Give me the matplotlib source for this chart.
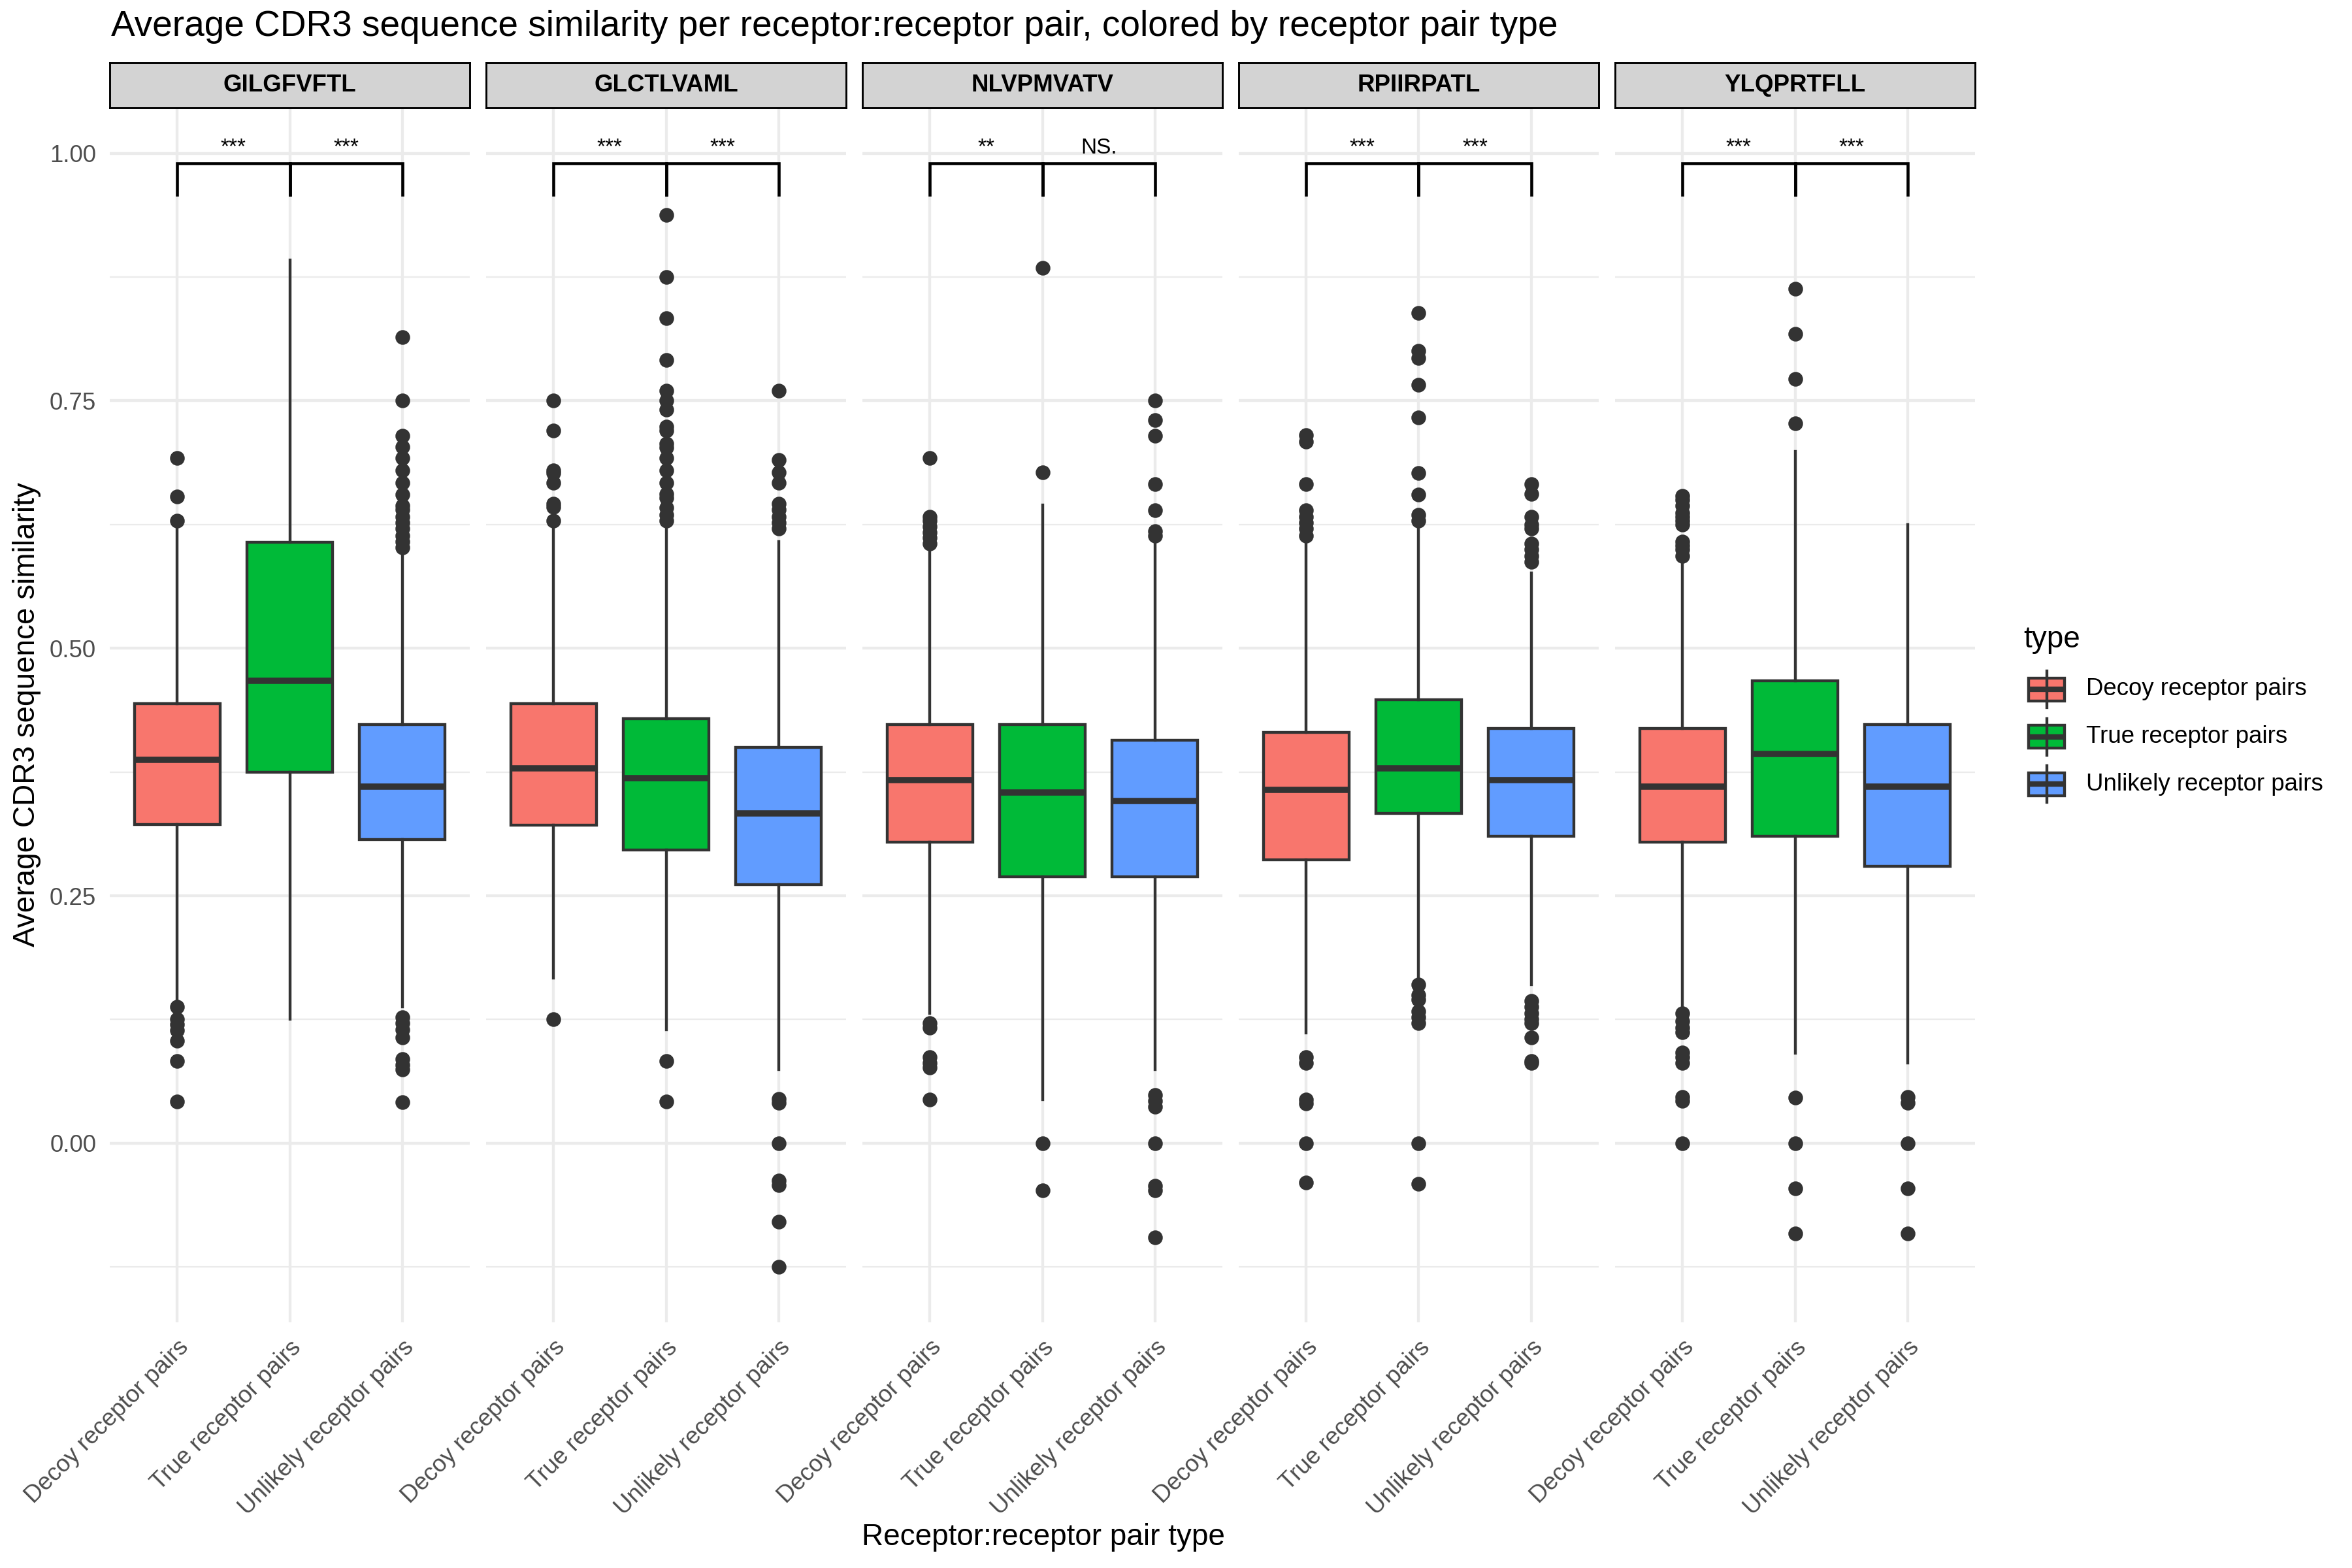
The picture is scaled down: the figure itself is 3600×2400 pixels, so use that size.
import matplotlib
matplotlib.use("Agg")
import matplotlib.pyplot as plt
from matplotlib.patches import Rectangle

plt.rcParams['font.family'] = ['Liberation Sans', 'DejaVu Sans']

peptides = ["GILGFVFTL", "GLCTLVAML", "NLVPMVATV", "RPIIRPATL", "YLQPRTFLL"]
pair_types = ["Decoy receptor pairs", "True receptor pairs", "Unlikely receptor pairs"]
colors = ["#F8766D", "#00BA38", "#619CFF"]

# box statistics, one row per peptide, columns follow pair_types
q1 = [
    [0.322, 0.375, 0.307],
    [0.3215, 0.296, 0.261],
    [0.304, 0.269, 0.269],
    [0.286, 0.333, 0.310],
    [0.304, 0.310, 0.2795],
]
medians = [
    [0.387, 0.467, 0.360],
    [0.379, 0.369, 0.333],
    [0.367, 0.354, 0.346],
    [0.357, 0.379, 0.367],
    [0.360, 0.393, 0.360],
]
q3 = [
    [0.444, 0.607, 0.423],
    [0.444, 0.429, 0.400],
    [0.423, 0.423, 0.407],
    [0.415, 0.448, 0.419],
    [0.419, 0.467, 0.423],
]
whisk_lo = [
    [0.144, 0.125, 0.138],
    [0.167, 0.115, 0.0745],
    [0.131, 0.044, 0.0745],
    [0.1115, 0.166, 0.160],
    [0.138, 0.091, 0.081],
]
whisk_hi = [
    [0.621, 0.8925, 0.600],
    [0.625, 0.625, 0.608],
    [0.600, 0.645, 0.606],
    [0.606, 0.621, 0.576],
    [0.587, 0.699, 0.625],
]
outliers = [
    [
        [0.692, 0.653, 0.629, 0.138, 0.125, 0.120, 0.114, 0.1035, 0.083, 0.042],
        [],
        [0.8145, 0.75, 0.7146, 0.7036, 0.692, 0.680, 0.667, 0.655, 0.644, 0.640, 0.633,
         0.627, 0.621, 0.614, 0.608, 0.602, 0.127, 0.121, 0.1145, 0.107, 0.085, 0.079,
         0.0745, 0.0417],
    ],
    [
        [0.75, 0.7197, 0.680, 0.677, 0.667, 0.646, 0.643, 0.629, 0.125],
        [0.9376, 0.875, 0.8335, 0.791, 0.760, 0.75, 0.741, 0.724, 0.72, 0.707, 0.703,
         0.692, 0.680, 0.667, 0.656, 0.652, 0.642, 0.635, 0.629, 0.083, 0.042],
        [0.760, 0.690, 0.678, 0.667, 0.646, 0.640, 0.633, 0.627, 0.621, 0.045, 0.041,
         0.0, -0.038, -0.0425, -0.0795, -0.1246],
    ],
    [
        [0.692, 0.633, 0.629, 0.623, 0.617, 0.612, 0.606, 0.121, 0.1166, 0.087, 0.081,
         0.0766, 0.0438],
        [0.8845, 0.678, 0.0, -0.0476],
        [0.75, 0.7306, 0.7146, 0.666, 0.6396, 0.6185, 0.614, 0.049, 0.043, 0.0366, 0.0,
         -0.043, -0.0476, -0.095],
    ],
    [
        [0.7154, 0.709, 0.666, 0.6396, 0.633, 0.627, 0.621, 0.614, 0.087, 0.081, 0.0438,
         0.040, 0.0, -0.040],
        [0.8385, 0.8006, 0.7934, 0.7664, 0.733, 0.677, 0.655, 0.635, 0.629, 0.16, 0.150,
         0.145, 0.133, 0.127, 0.121, 0.0, -0.0412],
        [0.666, 0.656, 0.633, 0.625, 0.621, 0.606, 0.600, 0.593, 0.587, 0.144, 0.1376,
         0.131, 0.125, 0.121, 0.107, 0.083, 0.081],
    ],
    [
        [0.654, 0.650, 0.644, 0.637, 0.633, 0.629, 0.625, 0.608, 0.604, 0.600, 0.593,
         0.131, 0.123, 0.1166, 0.112, 0.0913, 0.087, 0.081, 0.047, 0.043, 0.0],
        [0.8634, 0.8179, 0.7724, 0.7273, 0.0459, 0.0, -0.0455, -0.091],
        [0.047, 0.041, 0.0, -0.0455, -0.091],
    ],
]
signif = [["***", "***"], ["***", "***"], ["**", "NS."], ["***", "***"], ["***", "***"]]

W, H = 3600, 2400
fig = plt.figure(figsize=(12, 8), dpi=300)

dark = "#333333"
grid_c = "#EBEBEB"
panel_left, panel_w, panel_gap = 168, 551, 25
panel_top, panel_bot = 165, 2024
strip_h = 69

for i, pep in enumerate(peptides):
    x0 = panel_left + i * (panel_w + panel_gap)
    ax = fig.add_axes([x0 / W, 1 - panel_bot / H, panel_w / W, (panel_bot - panel_top) / H])

    stats = []
    for j in range(3):
        stats.append({
            "med": medians[i][j], "q1": q1[i][j], "q3": q3[i][j],
            "whislo": whisk_lo[i][j], "whishi": whisk_hi[i][j],
            "fliers": outliers[i][j],
        })
    bp = ax.bxp(stats, positions=[1, 2, 3], widths=0.76, showcaps=False,
                patch_artist=True, manage_ticks=False,
                boxprops=dict(edgecolor=dark, linewidth=1.05),
                whiskerprops=dict(color=dark, linewidth=1.05),
                medianprops=dict(color=dark, linewidth=2.3, solid_capstyle="butt"),
                flierprops=dict(marker="o", markerfacecolor=dark, markeredgecolor=dark,
                                markersize=4.4, linestyle="none"))
    for patch, c in zip(bp["boxes"], colors):
        patch.set_facecolor(c)

    ax.set_xlim(0.4, 3.6)
    ax.set_ylim(-0.181, 1.046)
    ax.set_yticks([0, 0.25, 0.5, 0.75, 1.0])
    ax.set_yticks([-0.125, 0.125, 0.375, 0.625, 0.875], minor=True)
    ax.set_xticks([1, 2, 3])
    ax.grid(True, which="major", color=grid_c, linewidth=1.05)
    ax.grid(True, which="minor", axis="y", color=grid_c, linewidth=0.55)
    ax.set_axisbelow(True)
    for s in ax.spines.values():
        s.set_visible(False)
    ax.tick_params(which="both", length=0, pad=5, labelsize=8.8, labelcolor="#4D4D4D")
    ax.set_xticklabels(pair_types, rotation=45, ha="right", va="top", rotation_mode="anchor")
    if i == 0:
        ax.set_yticklabels(["0.00", "0.25", "0.50", "0.75", "1.00"])
    else:
        ax.set_yticklabels([])

    # significance brackets
    yb, tip = 0.99, 0.032
    for k, lab in enumerate(signif[i]):
        xa, xb = 1 + k, 2 + k
        ax.plot([xa, xa, xb, xb], [yb - tip, yb, yb, yb - tip], color="black",
                linewidth=1.1, solid_joinstyle="miter", clip_on=False)
        ax.text((xa + xb) / 2, 1.0, lab, ha="center", va="baseline", fontsize=8,
                color="black")

    # facet strip
    sax = fig.add_axes([x0 / W, 1 - panel_top / H, panel_w / W, strip_h / H])
    sax.set_facecolor("#D3D3D3")
    sax.set_xticks([])
    sax.set_yticks([])
    for s in sax.spines.values():
        s.set_color("black")
        s.set_linewidth(0.7)
    sax.text(0.5, 0.5, pep, ha="center", va="center", fontsize=8.8, fontweight="bold",
             transform=sax.transAxes)

# titles
fig.text(170 / W, 1 - 41 / H, "Average CDR3 sequence similarity per receptor:receptor pair, colored by receptor pair type",
         ha="left", va="center", fontsize=13.2)
fig.text(41 / W, 1 - 1094 / H, "Average CDR3 sequence similarity", rotation=90,
         ha="center", va="center", fontsize=11)
fig.text(1597 / W, 1 - 2353 / H, "Receptor:receptor pair type", ha="center", va="center",
         fontsize=11)

# legend
lax = fig.add_axes([0, 0, 1, 1], facecolor="none")
lax.set_xlim(0, W)
lax.set_ylim(H, 0)
lax.axis("off")
lax.text(3097, 979, "type", ha="left", va="center", fontsize=11)
for k, (lab, c) in enumerate(zip(pair_types, colors)):
    yc = 1055 + k * 72.5
    lax.plot([3132.5, 3132.5], [yc - 28, yc + 28], color=dark, linewidth=1.05)
    lax.add_patch(Rectangle((3105, yc - 17.5), 55, 35, facecolor=c, edgecolor=dark,
                            linewidth=1.05))
    lax.plot([3105, 3160], [yc, yc], color=dark, linewidth=2.0, solid_capstyle="butt")
    lax.text(3193, yc, lab, ha="left", va="center", fontsize=8.8)

fig.savefig("out.png", dpi=300, facecolor="white")
